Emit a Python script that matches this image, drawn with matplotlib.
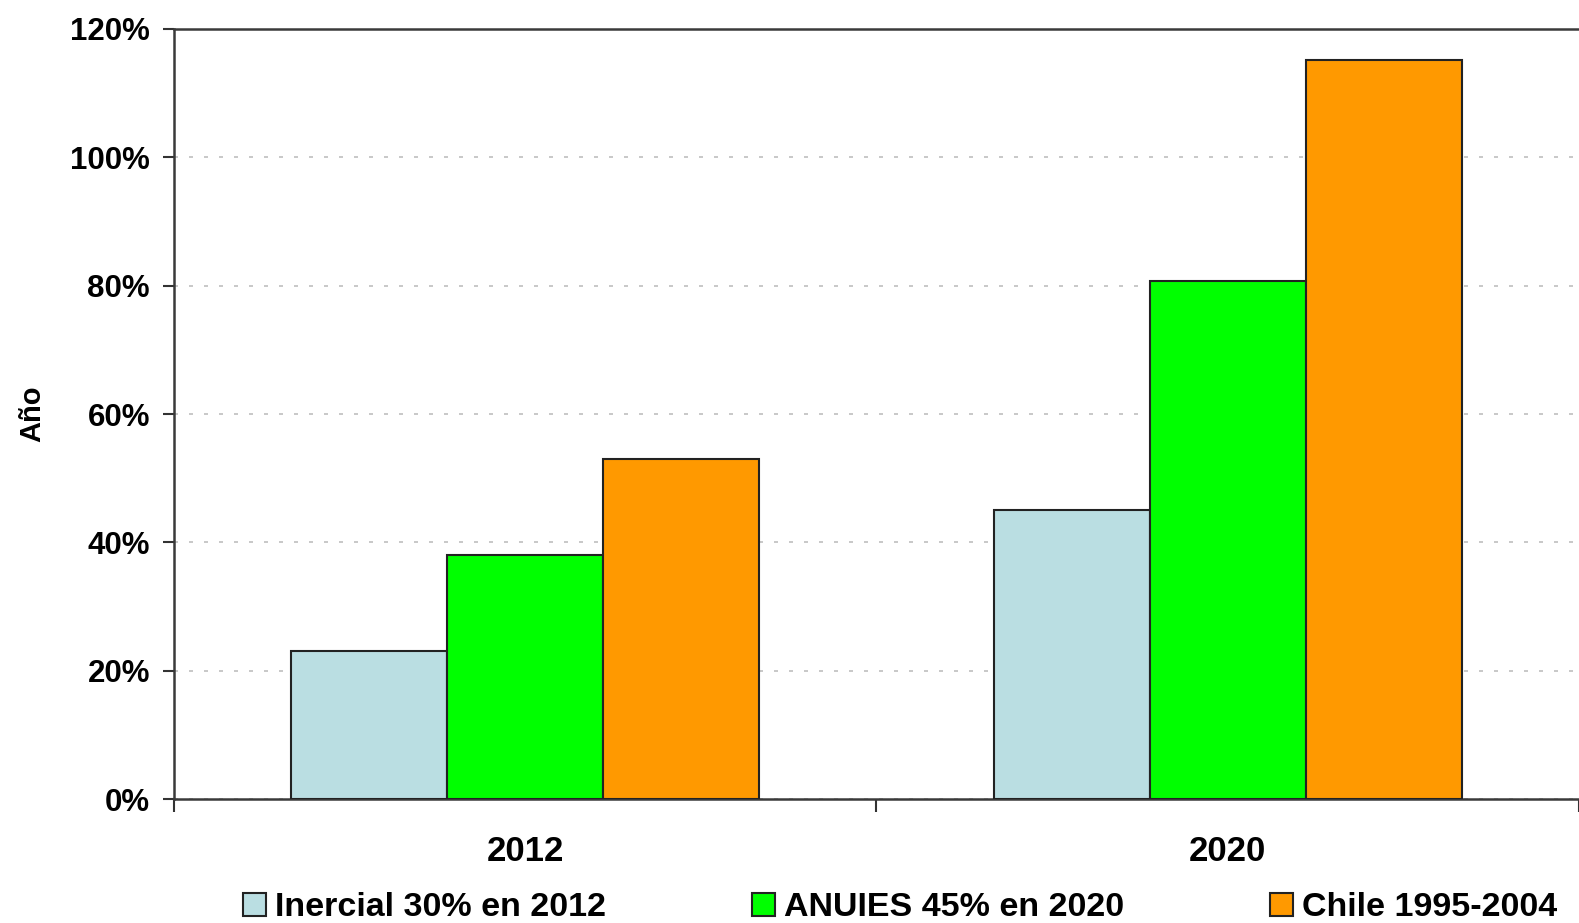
import numpy as np
import matplotlib
matplotlib.use('Agg')
import matplotlib.pyplot as plt
from matplotlib.ticker import PercentFormatter

plt.rcParams['font.family'] = ['Liberation Sans', 'DejaVu Sans']
plt.rcParams['font.weight'] = 'bold'

years = ['2012', '2020']
series_names = ['Inercial 30% en 2012', 'ANUIES 45% en 2020', 'Chile 1995-2004']
inercial = [23.0, 45.1]
anuies = [38.0, 80.7]
chile = [53.0, 115.1]
colors = ['#BADEE2', '#00FF00', '#FF9900']

fig = plt.figure(figsize=(15.79, 9.23), dpi=100)
ax = fig.add_axes([0.11, 0.1343, 0.89, 0.8343])

x = np.arange(len(years)) + 0.5
w = 0.222
for i, vals in enumerate([inercial, anuies, chile]):
    ax.bar(x + (i - 1) * w, vals, width=w, color=colors[i], edgecolor='#222222',
           linewidth=1.5, label=series_names[i], zorder=3)

ax.set_ylim(0, 120)
ax.set_yticks(np.arange(0, 121, 20))
ax.yaxis.set_major_formatter(PercentFormatter(decimals=0))
ax.grid(axis='y', color='#BFBFBF', linestyle=(0, (2.4, 6.6)), linewidth=1.2, zorder=0)

ax.set_xlim(0, 1.973)
ax.set_xticks([0, 1, 2])
ax.set_xticklabels(['', '', ''])
ax.set_xticks(x, minor=True)
ax.set_xticklabels(years, minor=True)
ax.tick_params(axis='x', which='major', length=9, width=1.5, color='#333333')
ax.tick_params(axis='x', which='minor', length=0, pad=26, labelsize=25)
ax.tick_params(axis='y', length=8, width=1.5, color='#333333', labelsize=22.5, pad=9)

for s in ['left', 'bottom', 'top']:
    ax.spines[s].set_color('#3a3a3a')
    ax.spines[s].set_linewidth(1.8)
ax.spines['right'].set_visible(False)

ax.set_ylabel('Año', fontsize=21, fontweight='bold', labelpad=17)

fig.legend(loc='center', bbox_to_anchor=(0.570, 0.0163), ncol=3, frameon=False,
           fontsize=24.5, handlelength=0.66, handleheight=0.65, handletextpad=0.27,
           columnspacing=4.3, borderpad=0)

fig.savefig('out.png', dpi=100)
